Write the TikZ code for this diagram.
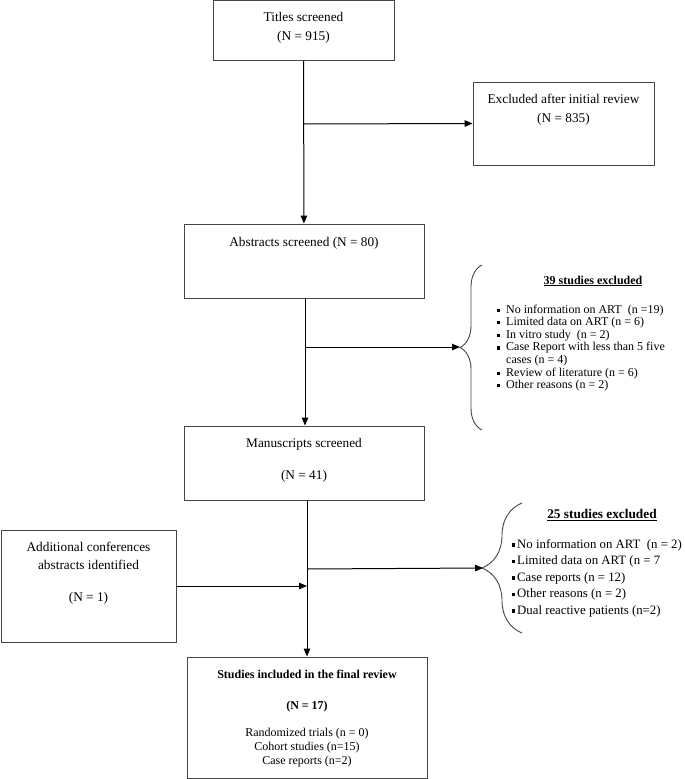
\documentclass[tikz,border=0pt]{standalone}
\usepackage{fontspec}
\setmainfont{Liberation Serif}
\usepackage{tikz}
\usetikzlibrary{arrows.meta,shapes,decorations.pathreplacing}

\newcommand{\sqbul}[1][9pt]{\makebox[#1][l]{\rule[0.25ex]{3.2pt}{3.2pt}}}

\begin{document}
\begin{tikzpicture}[x=1pt,y=-1pt]

		\definecolor{boxgray}{RGB}{70,70,70}
		\useasboundingbox (0,0) rectangle (685,779);

		\tikzstyle{edge} = [draw,line width=1pt,-{Triangle[length=8pt,width=6.5pt]}]
		\tikzset{box/.style = {shape=rectangle,draw=boxgray,line width=0.9pt,inner sep=0pt}}
		\tikzset{txt/.style = {align=center,inner sep=0pt,font=\fontsize{13.3}{19}\selectfont}}
		\tikzset{brc/.style = {draw=boxgray,line width=0.9pt,decorate,decoration={brace,amplitude=#1}}}

		% boxes
		\node[box,minimum width=181pt,minimum height=60pt] (titles) at (303.5,30.75) {};
		\node[box,minimum width=181pt,minimum height=83pt] (excl) at (563.5,123.5) {};
		\node[box,minimum width=240pt,minimum height=74pt] (abs) at (304,261) {};
		\node[box,minimum width=240pt,minimum height=74pt] (man) at (304,463) {};
		\node[box,minimum width=175pt,minimum height=112pt] (add) at (88.5,586) {};
		\node[box,minimum width=240pt,minimum height=121pt] (fin) at (307,717.5) {};

		% box texts
		\node[txt] (titlestxt) at (303.5,27.5) {Titles screened\\(N = 915)};
		\node[txt] (excltxt) at (563.5,109.5) {Excluded after initial review\\(N = 835)};
		\node[txt] (abstxt) at (304,243) {Abstracts screened (N = 80)};
		\node[txt] (mantxt) at (304,460) {Manuscripts screened\\[13pt](N = 41)};
		\node[txt,font=\fontsize{13.3}{18}\selectfont] (addtxt) at (88.5,573) {Additional conferences\\abstracts identified\\[14pt](N = 1)};
		\node[txt,font=\fontsize{12}{14}\selectfont] (fintxt) at (307,719) {\textbf{Studies included in the final review}\\[17pt]\textbf{(N = 17)}\\[13pt]Randomized trials (n = 0)\\Cohort studies (n=15)\\Case reports (n=2)};

		% braces
		\coordinate (tip1) at (460,347);
		\coordinate (tip2) at (483,568);
		\draw[brc=22pt] (482,430) -- (482,265);
		\draw[brc=40pt] (522,633) -- (522,503);

		\node[txt,font=\fontsize{12}{14}\selectfont] (ex1head) at (593,281) {\underline{\textbf{39 studies excluded}}};
		\node[inner sep=0pt,align=left,anchor=west,font=\fontsize{12}{12.6}\selectfont] (ex1list) at (497,348) {\sqbul No information on ART\ \ (n =19)\\
			\sqbul Limited data on ART (n = 6)\\
			\sqbul In vitro study\ \ (n = 2)\\
			\sqbul Case Report with less than 5 five\\
			\hspace*{9pt}cases (n = 4)\\
			\sqbul Review of literature (n = 6)\\
			\sqbul Other reasons (n = 2)};

		\node[txt,font=\fontsize{13.3}{15}\selectfont] (ex2head) at (602,515) {\underline{\textbf{25 studies excluded}}};
		\node[inner sep=0pt,align=left,anchor=west,font=\fontsize{12.8}{16.5}\selectfont] (ex2list) at (512,578) {\sqbul[5pt]No information on ART\ \ (n = 2)\\
			\sqbul[5pt]Limited data on ART (n = 7\\
			\sqbul[5pt]Case reports (n = 12)\\
			\sqbul[5pt]Other reasons (n = 2)\\
			\sqbul[5pt]Dual reactive patients (n=2)};

		% connectors
		\coordinate (b1) at (303.5,124);
		\coordinate (b2) at (305,347);
		\coordinate (b3) at (307,569);
		\draw[edge] (titles) to (abs);
		\draw[edge] (b1) to (excl.west);
		\draw[edge] (abs.south -| b2) to (man.north -| b2);
		\draw[edge] (b2) to (tip1);
		\draw[edge] (man.south -| b3) to (fin.north -| b3);
		\draw[edge] (b3) to (tip2);
		\draw[edge] (add.east) to (add.east -| b3);
		\end{tikzpicture}
\end{document}
